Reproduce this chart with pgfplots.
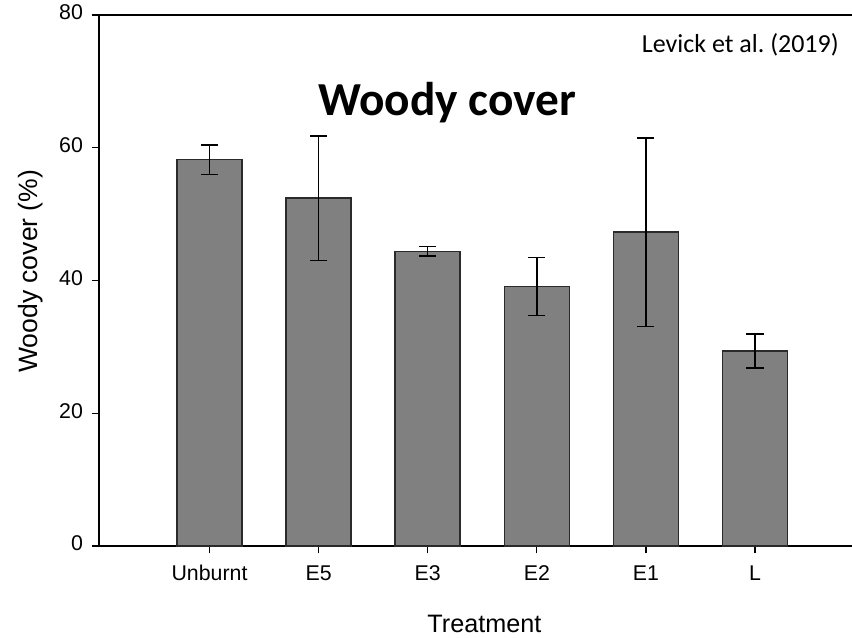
\documentclass[border=0pt]{standalone}
\usepackage{fontspec}
\setmainfont{Liberation Sans}
\newfontfamily\carlito{Carlito}
\usepackage{pgfplots}
\pgfplotsset{compat=1.18}
\definecolor{barfill}{HTML}{808080}
\definecolor{baredge}{HTML}{2A2A2A}
\pgfplotstableread{
x y e
0 58.2 2.25
1 52.4 9.35
2 44.4 0.7
3 39.1 4.35
4 47.3 14.2
5 29.4 2.55
}\woody
\begin{document}
\begin{tikzpicture}
\begin{axis}[
  scale only axis, width=564.75pt, height=398.25pt,
  xmin=-1.013, xmax=5.889, ymin=0, ymax=80,
  axis x line*=bottom, axis y line*=left,
  xtick={0,1,2,3,4,5}, xticklabels={Unburnt,E5,E3,E2,E1,L},
  ytick={0,20,40,60,80},
  tick align=outside, major tick length=5.5pt,
  tick style={black, line width=1pt},
  axis line style={black, line width=1.1pt},
  tick label style={font=\fontsize{16}{18}\selectfont},
  typeset ticklabels with strut,
  xticklabel style={yshift=-4pt},
  yticklabel style={xshift=-3pt},
  /pgf/number format/assume math mode=true,
  ybar, bar width=48.75pt,
  clip=false,
]
\coordinate (SW) at (rel axis cs:0,0);
\addplot[fill=barfill, draw=baredge, line width=1.1pt,
  error bars/.cd, y dir=both, y explicit,
  error bar style={black, line width=1.1pt},
  error mark options={rotate=90, mark size=6.4pt, line width=1.1pt, black}]
  table[x=x, y=y, y error=e] {\woody};
\draw[black, line width=1.1pt] (rel axis cs:0,1) -- (rel axis cs:1,1);
\node[anchor=base, font=\carlito\bfseries\fontsize{35.5}{40}\selectfont] at (axis cs:2.18,64.9) {Woody cover};
\node[anchor=base east, inner sep=0pt, font=\carlito\fontsize{19.5}{22}\selectfont] at (axis cs:5.77,74.3) {Levick et al.\ (2019)};
\node[anchor=base, inner sep=0pt, font=\fontsize{18.9}{22}\selectfont] at (axis cs:2.52,-12.96) {Treatment};
\node[anchor=base, rotate=90, inner sep=0pt, font=\fontsize{19.9}{22}\selectfont] at (axis cs:-1.581,41.4) {Woody cover (\%)};
\end{axis}
\pgfresetboundingbox
\path[use as bounding box] ([shift={(-74.25pt,-68.25pt)}]SW) rectangle ([shift={(564.75pt,409.5pt)}]SW);
\end{tikzpicture}
\end{document}
